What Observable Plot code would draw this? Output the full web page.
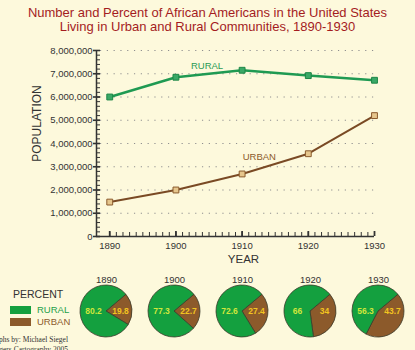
<!DOCTYPE html>
<html>
<head>
<meta charset="utf-8">
<script src="https://cdn.jsdelivr.net/npm/d3@7"></script>
<script src="https://cdn.jsdelivr.net/npm/@observablehq/plot@0.6"></script>
<style>
  html, body { margin: 0; padding: 0; background: #fdf9dc; }
  #wrap { position: relative; width: 415px; height: 350px; overflow: hidden; background: #fdf9dc;
          font-family: Arial, "Liberation Sans", sans-serif; }
  #title { position: absolute; left: 0; top: 6px; width: 415px; text-align: center; color: #a41c1f;
           font-size: 13px; line-height: 13.5px; }
  #main { position: absolute; left: 0; top: 40px; }
  #pies { position: absolute; left: 0; top: 262px; }
  .abs { position: absolute; }
  .lg { font-size: 9.5px; line-height: 10px; }
  .credit { font-family: "Liberation Serif", "DejaVu Serif", serif; font-size: 7.5px; line-height: 8px; color: #333; white-space: nowrap; }
</style>
</head>
<body>
<div id="wrap">
  <div id="title">Number and Percent of African Americans in the United States<br>Living in Urban and Rural Communities, 1890-1930</div>
  <div id="main"></div>
  <div id="pies"></div>
  <div class="abs" style="left:13px;top:288px;font-size:10.5px;color:#333;">PERCENT</div>
  <div class="abs" style="left:10px;top:306px;width:21px;height:8px;background:#14a03f;"></div>
  <div class="abs lg" style="left:37px;top:305px;color:#23a04a;">RURAL</div>
  <div class="abs" style="left:10px;top:318px;width:21px;height:8px;background:#8c5a2b;"></div>
  <div class="abs lg" style="left:37px;top:317px;color:#8c5a2b;">URBAN</div>
  <div class="abs credit" style="right:347px;top:336px;">Graphs by: Michael Siegel</div>
  <div class="abs credit" style="right:347px;top:346px;">Rutgers Cartography 2005</div>
</div>
<script>
// ---- data ----
const years = [1890, 1900, 1910, 1920, 1930];
const rural = [6000000, 6850000, 7150000, 6920000, 6720000];
const urban = [1480000, 2000000, 2690000, 3560000, 5200000];
const ruralPct = [80.2, 77.3, 72.6, 66, 56.3];
const urbanPct = [19.8, 22.7, 27.4, 34, 43.7];
const yTicks = [0, 1000000, 2000000, 3000000, 4000000, 5000000, 6000000, 7000000, 8000000];
const yMinor = d3.range(0, 8000001, 200000);
const xMinor = d3.range(1890, 1931, 1);

const ruralData = years.map((year, i) => ({year, value: rural[i]}));
const urbanData = years.map((year, i) => ({year, value: urban[i]}));
const pieData = years.map((year, i) => ({year, rural: ruralPct[i], urban: urbanPct[i]}));

const font = 'Arial, "Liberation Sans", sans-serif';

const main = Plot.plot({
  width: 415, height: 225,
  marginTop: 10, marginBottom: 29, marginLeft: 96, marginRight: 41,
  style: {background: "transparent", fontFamily: font, fontSize: "9.5px", color: "#333", overflow: "visible"},
  x: {domain: [1888, 1930], axis: null},
  y: {domain: [0, 8000000], axis: null},
  marks: [
    Plot.ruleY(yTicks.slice(1), {x1: 1888.6, x2: 1930, stroke: "#8f8f8f", strokeDasharray: "1.2,5.6", strokeWidth: 1}),
    Plot.axisY(yMinor, {anchor: "left", label: null, tickSize: 4, dx: 4, tickFormat: () => "", stroke: "#333", strokeWidth: 1}),
    Plot.axisY(yTicks, {anchor: "left", label: null, tickSize: 7, dx: 4, tickPadding: 1, tickFormat: d3.format(","), stroke: "#333", strokeWidth: 1.6, fill: "#333", fontSize: 9.5}),
    Plot.ruleX([1888], {y1: 0, y2: 8000000, stroke: "#333", strokeWidth: 1.5}),
    Plot.ruleY([0], {x1: 1888, x2: 1930, stroke: "#333", strokeWidth: 1.5}),
    Plot.axisX(xMinor, {anchor: "bottom", label: null, tickSize: 4, dy: -4, tickFormat: () => "", stroke: "#333", strokeWidth: 1}),
    Plot.axisX(years, {anchor: "bottom", label: null, tickSize: 5, dy: -5, tickPadding: 6, tickFormat: d => String(d), stroke: "#333", strokeWidth: 1.8, fill: "#333", fontSize: 9.5}),
    Plot.text(["YEAR"], {frameAnchor: "bottom", lineAnchor: "middle", dx: 8, dy: 22.5, fontSize: 11.5, fill: "#333"}),
    Plot.text(["POPULATION"], {frameAnchor: "left", textAnchor: "middle", lineAnchor: "middle", rotate: -90, dx: -59, dy: -20, fontSize: 12, fill: "#333"}),
    Plot.line(ruralData, {x: "year", y: "value", stroke: "#1f9a52", strokeWidth: 2.5}),
    Plot.dot(ruralData, {x: "year", y: "value", symbol: "square", r: 3.3, fill: "#3aa866", stroke: "#1c8646", strokeWidth: 1}),
    Plot.line(urbanData, {x: "year", y: "value", stroke: "#7a4a24", strokeWidth: 2}),
    Plot.dot(urbanData, {x: "year", y: "value", symbol: "square", r: 3.3, fill: "#e6c68c", stroke: "#8a5a2c", strokeWidth: 1}),
    Plot.text(["RURAL"], {x: 1904.7, y: 7350000, fill: "#2a9a55", fontSize: 9.5}),
    Plot.text(["URBAN"], {x: 1912.6, y: 3400000, fill: "#8b5a2b", fontSize: 9.5})
  ]
});
document.getElementById("main").append(main);

const start = 50 * Math.PI / 180;
function pieMark(index, scales) {
  const g = d3.create("svg:g");
  const arc = d3.arc().innerRadius(0).outerRadius(26);
  const pie = d3.pie().sort(null).startAngle(start).endAngle(start + 2 * Math.PI);
  pieData.forEach(d => {
    const gg = g.append("g").attr("transform", `translate(${scales.x(d.year)},49)`);
    gg.selectAll("path").data(pie([d.urban, d.rural])).join("path")
      .attr("d", arc)
      .attr("fill", (a, j) => j ? "#14a03f" : "#8c5a2b")
      .attr("stroke", "#3b3b2b").attr("stroke-width", 0.8);
  });
  return g.node();
}

const pies = Plot.plot({
  width: 415, height: 88, margin: 0,
  style: {background: "transparent", fontFamily: font, fontSize: "9.5px", color: "#333"},
  x: {type: "point", domain: years, range: [106, 378], padding: 0, axis: null},
  marks: [
    pieMark,
    Plot.text(years, {x: d => d, frameAnchor: "top", lineAnchor: "middle", dy: 17, fontSize: 9.5, fill: "#333", text: d => String(d)}),
    Plot.text(pieData, {x: "year", frameAnchor: "top", lineAnchor: "middle", dy: 49, dx: -13, text: d => String(d.rural), fill: "#cfe63c", fontWeight: "bold", fontSize: 8.5}),
    Plot.text(pieData, {x: "year", frameAnchor: "top", lineAnchor: "middle", dy: 49, dx: 14, text: d => String(d.urban), fill: "#f2c420", fontWeight: "bold", fontSize: 8.5})
  ]
});
document.getElementById("pies").append(pies);
</script>
</body>
</html>
